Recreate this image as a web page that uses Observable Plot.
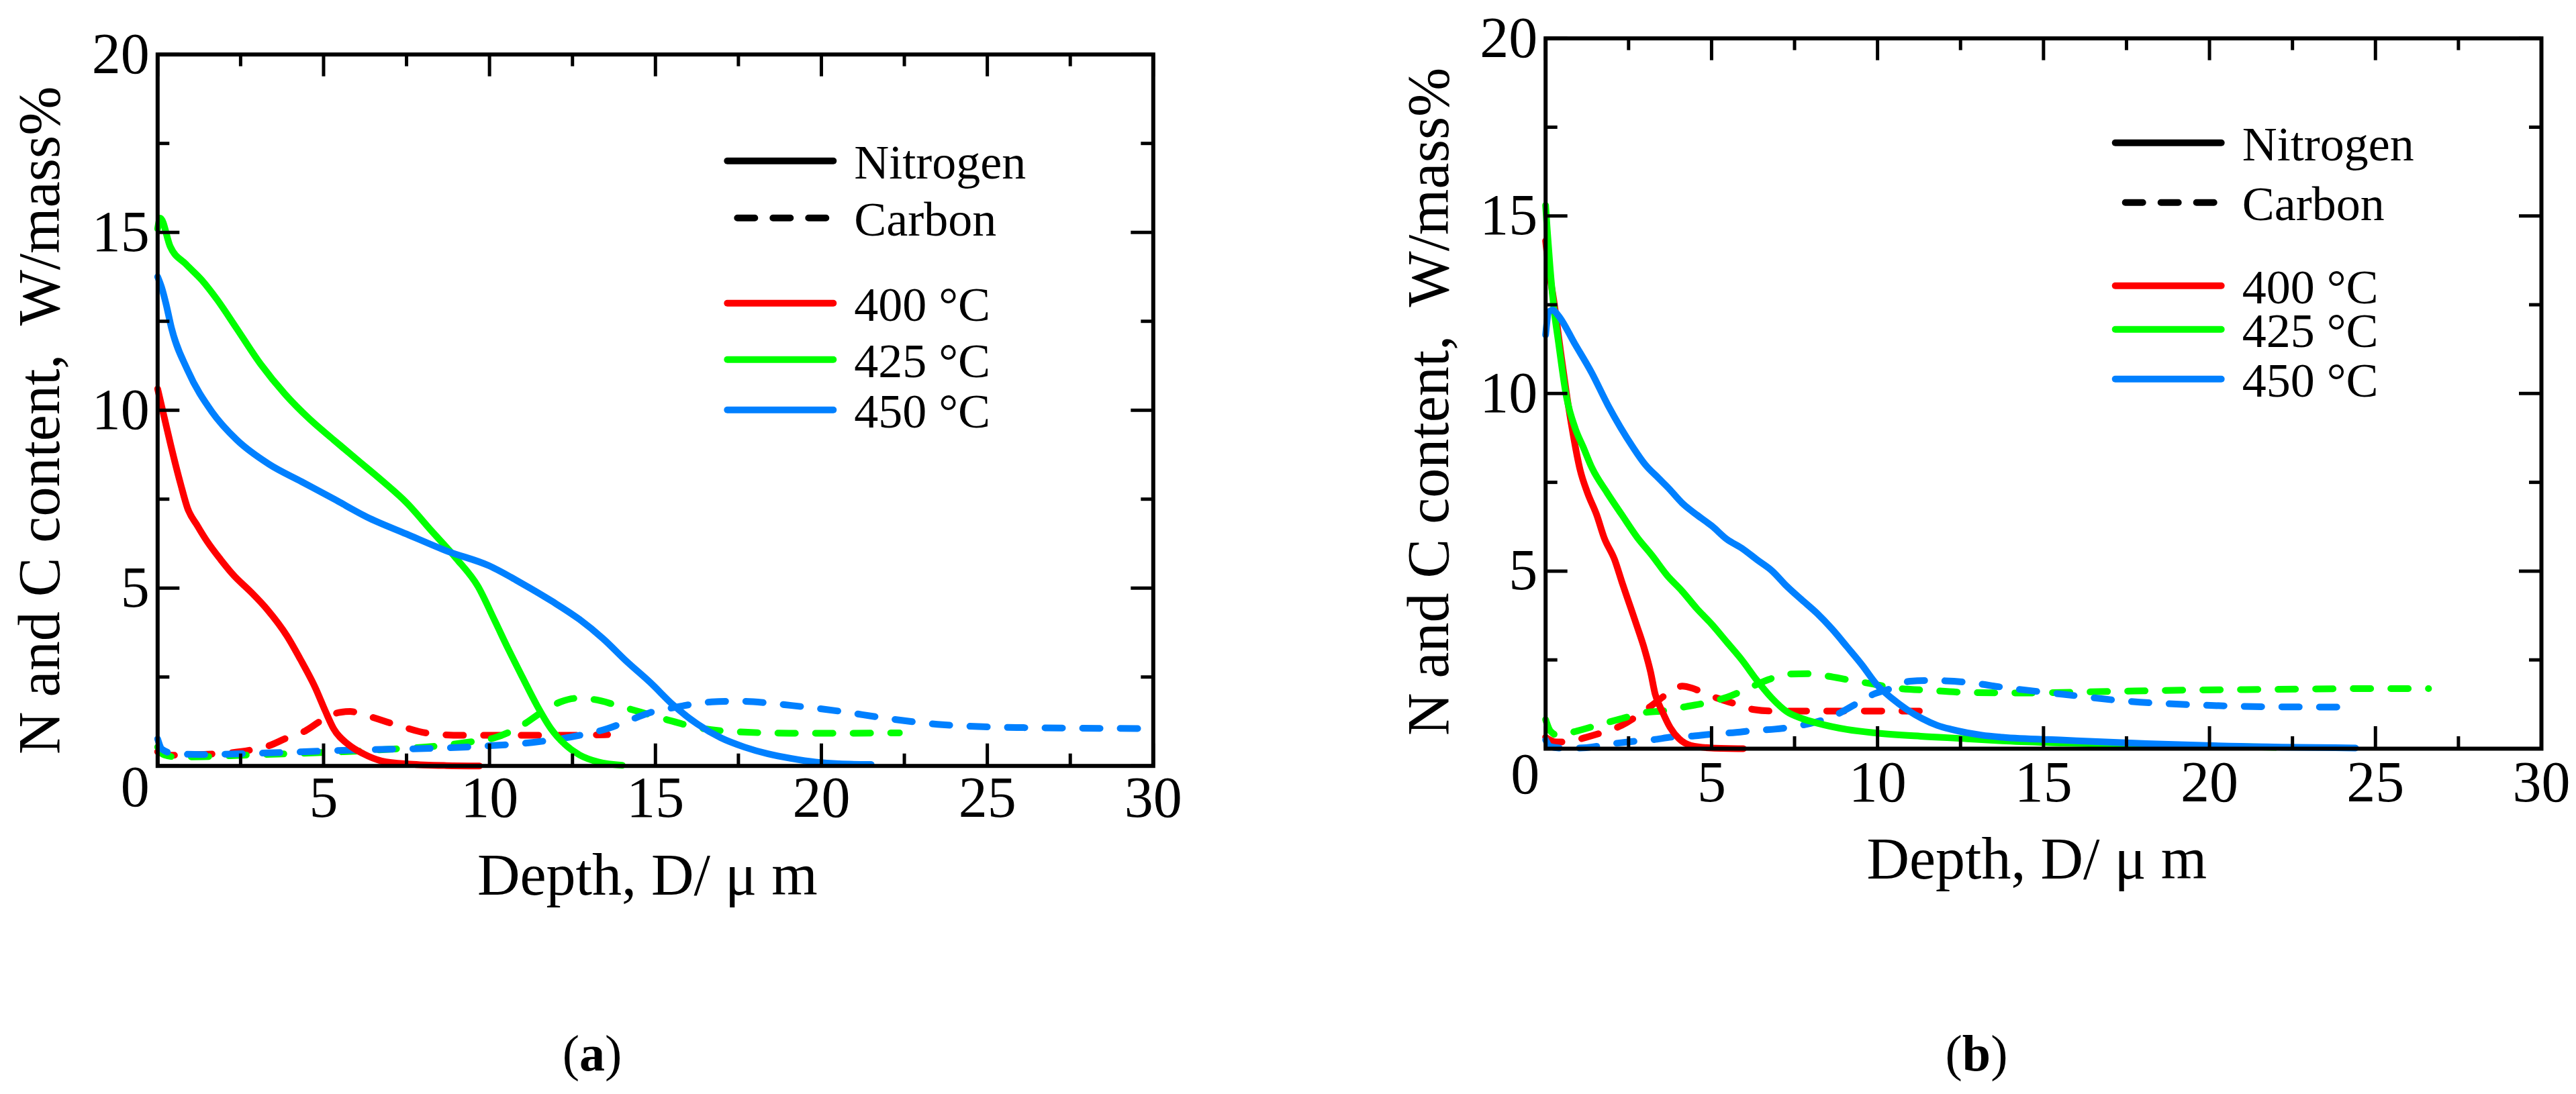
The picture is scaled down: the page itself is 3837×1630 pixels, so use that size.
<!DOCTYPE html>
<html>
<head>
<meta charset="utf-8">
<script src="https://cdn.jsdelivr.net/npm/d3@7"></script>
<script src="https://cdn.jsdelivr.net/npm/@observablehq/plot@0.6"></script>
<style>
  body { margin: 0; background: #ffffff; }
  #fig { position: relative; width: 3837px; height: 1630px; background: #ffffff; font-family: "Liberation Serif", "Times New Roman", serif; }
  .panel { position: absolute; top: 0; }
</style>
</head>
<body>
<div id="fig"></div>
<script>
// ---------------- data (depth in µm, content in mass%) ----------------
const temps = ["400 °C", "425 °C", "450 °C"];
const tempColors = ["#ff0000", "#00ff00", "#0080ff"];
const elements = ["Nitrogen", "Carbon"];

// panel (a)
const aN400 = [[0,10.6],[0.2,9.8],[0.4,9.0],[0.7,7.9],[0.9,7.25],[1.2,6.75],[1.5,6.3],[1.9,5.8],[2.3,5.35],[2.8,4.9],[3.3,4.4],[3.9,3.65],[4.3,3.0],[4.75,2.2],[5.05,1.55],[5.3,1.05],[5.75,0.6],[6.2,0.34],[6.75,0.14],[7.6,0.05],[8.7,0.01],[9.7,0]];
const aN425 = [[0,15.1],[0.08,15.4],[0.38,14.6],[0.86,14.1],[1.33,13.66],[1.8,13.1],[2.38,12.3],[3.1,11.3],[3.85,10.44],[4.58,9.75],[5.3,9.17],[6.05,8.58],[6.8,7.99],[7.5,7.4],[8.26,6.6],[9.0,5.83],[9.65,5.05],[10.15,4.1],[10.58,3.26],[11.0,2.48],[11.43,1.7],[11.85,1.05],[12.28,0.6],[12.71,0.31],[13.28,0.11],[14.0,0.02]];
const aN450 = [[0,13.75],[0.12,13.45],[0.25,13.0],[0.42,12.3],[0.9,11.13],[1.64,9.95],[2.38,9.17],[3.36,8.48],[4.34,7.99],[5.32,7.5],[6.3,7.0],[7.5,6.52],[8.75,6.03],[9.98,5.63],[10.96,5.14],[11.9,4.62],[12.71,4.12],[13.42,3.58],[14.13,2.94],[14.84,2.35],[15.55,1.7],[16.26,1.18],[16.97,0.79],[17.68,0.53],[18.39,0.34],[19.1,0.21],[19.82,0.11],[20.53,0.06],[21.5,0.04]];
const aC400 = [[0,0.4],[0.34,0.3],[1.2,0.32],[2.2,0.37],[2.76,0.44],[3.33,0.56],[3.9,0.79],[4.46,0.99],[4.89,1.25],[5.46,1.5],[5.8,1.53],[6.31,1.41],[7.31,1.12],[8.14,0.92],[9.15,0.86],[10.58,0.86],[12.0,0.86],[13.56,0.88]];
const aC425 = [[0,0.53],[0.2,0.31],[0.63,0.25],[1.34,0.26],[2.76,0.31],[4.18,0.35],[5.6,0.4],[7.02,0.47],[8.44,0.56],[9.3,0.66],[10.15,0.79],[11.0,1.15],[11.57,1.51],[12.14,1.8],[12.6,1.9],[13.14,1.87],[13.85,1.7],[14.56,1.51],[15.27,1.32],[16.26,1.08],[17.68,0.95],[19.1,0.92],[20.53,0.92],[22.35,0.93]];
const aC450 = [[0,0.76],[0.13,0.47],[0.48,0.35],[1.34,0.32],[2.76,0.35],[4.18,0.39],[5.6,0.44],[7.02,0.47],[8.44,0.5],[9.87,0.56],[11.29,0.66],[12.71,0.86],[13.56,1.05],[14.13,1.25],[14.84,1.5],[15.55,1.64],[16.69,1.8],[17.5,1.82],[18.3,1.78],[19.1,1.7],[20.53,1.54],[21.95,1.34],[23.5,1.17],[25.9,1.08],[30,1.05]];

// panel (b)
const bN400 = [[0,14.3],[0.1,13.5],[0.25,12.6],[0.45,11.2],[0.63,10.0],[0.82,8.9],[1.04,7.85],[1.26,7.21],[1.54,6.58],[1.76,5.95],[2.08,5.32],[2.3,4.69],[2.53,4.06],[2.76,3.43],[2.98,2.8],[3.16,2.17],[3.3,1.54],[3.52,1.04],[3.75,0.6],[4.02,0.28],[4.38,0.09],[5.0,0.02],[5.96,0]];
const bN425 = [[0,15.3],[0.05,14.6],[0.13,13.6],[0.25,12.4],[0.38,11.5],[0.63,9.9],[0.9,9.0],[1.13,8.5],[1.4,7.9],[1.85,7.21],[2.3,6.58],[2.76,5.95],[3.2,5.45],[3.66,4.88],[4.11,4.44],[4.56,3.94],[5.01,3.5],[5.47,2.99],[5.92,2.49],[6.37,1.92],[6.82,1.42],[7.27,1.04],[7.72,0.85],[8.18,0.72],[9.08,0.54],[9.98,0.44],[11.3,0.35],[12.7,0.28],[13.76,0.22],[15.6,0.16],[18.1,0.1],[20,0.07],[22,0.04]];
const bN450 = [[0,11.65],[0.1,12.3],[0.22,12.35],[0.38,12.2],[0.88,11.4],[1.38,10.6],[1.88,9.67],[2.63,8.49],[3.0,8.0],[3.4,7.62],[3.7,7.34],[4.11,6.92],[4.56,6.58],[5.01,6.27],[5.47,5.89],[5.92,5.64],[6.37,5.32],[6.82,5.01],[7.27,4.57],[7.72,4.19],[8.18,3.81],[8.63,3.37],[9.08,2.87],[9.53,2.36],[9.98,1.8],[10.43,1.42],[10.89,1.1],[11.34,0.85],[11.79,0.66],[12.24,0.54],[13.14,0.38],[13.76,0.32],[15.6,0.24],[18.1,0.14],[20.6,0.07],[24.4,0.02]];
const bC400 = [[0,0.32],[0.32,0.19],[0.63,0.19],[1.22,0.32],[1.76,0.47],[2.3,0.66],[2.85,0.98],[3.3,1.29],[3.66,1.54],[4.11,1.76],[4.43,1.7],[4.83,1.54],[5.28,1.39],[5.83,1.23],[6.28,1.1],[6.82,1.06],[9,1.06],[11.56,1.06]];
const bC425 = [[0,0.82],[0.14,0.5],[0.36,0.38],[0.95,0.5],[1.67,0.69],[2.3,0.85],[2.94,1.01],[3.57,1.07],[4.2,1.18],[4.83,1.29],[5.47,1.45],[6.1,1.7],[6.73,1.95],[7.27,2.1],[7.95,2.11],[8.45,2.05],[9.17,1.93],[9.8,1.83],[10.43,1.72],[11.6,1.64],[12.86,1.58],[14.4,1.57],[16.9,1.61],[19.4,1.65],[21.9,1.67],[24.4,1.69],[26.6,1.69]];
const bC450 = [[0,0.25],[0.14,0.06],[0.59,0.01],[1.22,0.03],[1.94,0.13],[2.48,0.19],[3.21,0.25],[3.84,0.33],[4.47,0.36],[5.01,0.41],[5.74,0.46],[6.37,0.52],[6.91,0.55],[7.54,0.63],[8.18,0.76],[8.81,0.98],[9.35,1.26],[9.89,1.54],[10.43,1.7],[10.98,1.9],[11.52,1.92],[12.06,1.91],[12.69,1.87],[13.76,1.73],[15.6,1.53],[17.6,1.33],[19.4,1.24],[21.9,1.18],[24.4,1.17]];

// ticks and labels
const xMajorTicks = [0, 5, 10, 15, 20, 25, 30];
const xMinorTicks = [2.5, 7.5, 12.5, 17.5, 22.5, 27.5];
const xLabelTicks = [5, 10, 15, 20, 25, 30];
const yMajorTicks = [0, 5, 10, 15, 20];
const yMinorTicks = [2.5, 7.5, 12.5, 17.5];
const yLabelTicks = [5, 10, 15, 20];
const xTitle = "Depth, D/ μ m";
const yTitle = "N and C content,  W/mass%";
const captions = ["a", "b"];

// ---------------- build ----------------
function rowsOf(list) {
  const out = [];
  for (const s of list) for (const [d, c] of s.data) out.push({depth: d, content: c, temp: s.temp, element: s.element, key: s.element + s.temp});
  return out;
}
const panelA = rowsOf([
  {temp: temps[0], element: "Nitrogen", data: aN400},
  {temp: temps[1], element: "Nitrogen", data: aN425},
  {temp: temps[2], element: "Nitrogen", data: aN450},
  {temp: temps[0], element: "Carbon", data: aC400},
  {temp: temps[1], element: "Carbon", data: aC425},
  {temp: temps[2], element: "Carbon", data: aC450}
]);
const panelB = rowsOf([
  {temp: temps[0], element: "Nitrogen", data: bN400},
  {temp: temps[1], element: "Nitrogen", data: bN425},
  {temp: temps[2], element: "Nitrogen", data: bN450},
  {temp: temps[0], element: "Carbon", data: bC400},
  {temp: temps[1], element: "Carbon", data: bC425},
  {temp: temps[2], element: "Carbon", data: bC450}
]);

const FONT = '"Liberation Serif", "Times New Roman", serif';
const MAJOR = 33, MINOR = 18, TICKW = 5;

function makePanel(rows, L) {
  const fw = L.width - L.ml - L.mr;   // frame width in px
  const fh = L.height - L.mt - L.mb;  // frame height in px
  const t = {stroke: "black", strokeWidth: TICKW};
  return Plot.plot({
    width: L.width, height: L.height,
    marginLeft: L.ml, marginRight: L.mr, marginTop: L.mt, marginBottom: L.mb,
    style: {fontFamily: FONT, fontSize: "86px", color: "black", background: "transparent", overflow: "visible"},
    x: {domain: [0, 30], label: null},
    y: {domain: [0, 20], label: null},
    color: {domain: temps, range: tempColors},
    marks: [
      Plot.line(rows, {filter: d => d.element === "Carbon", x: "depth", y: "content", z: "key", stroke: "temp",
        strokeWidth: 10, strokeLinecap: "round", strokeLinejoin: "round", strokeDasharray: "26,30", curve: "monotone-x"}),
      Plot.line(rows, {filter: d => d.element === "Nitrogen", x: "depth", y: "content", z: "key", stroke: "temp",
        strokeWidth: 10, strokeLinecap: "round", strokeLinejoin: "round", curve: "monotone-x"}),
      Plot.frame({stroke: "black", strokeWidth: 6}),
      // inward ticks on all four sides
      Plot.ruleX(xMajorTicks, {...t, insetTop: fh - MAJOR}),
      Plot.ruleX(xMinorTicks, {...t, insetTop: fh - MINOR}),
      Plot.ruleX(xMajorTicks, {...t, insetBottom: fh - MAJOR}),
      Plot.ruleX(xMinorTicks, {...t, insetBottom: fh - MINOR}),
      Plot.ruleY(yMajorTicks, {...t, insetRight: fw - MAJOR}),
      Plot.ruleY(yMinorTicks, {...t, insetRight: fw - MINOR}),
      Plot.ruleY(yMajorTicks, {...t, insetLeft: fw - MAJOR}),
      Plot.ruleY(yMinorTicks, {...t, insetLeft: fw - MINOR}),
      // tick labels
      Plot.axisX({anchor: "bottom", ticks: xLabelTicks, tickSize: 0, tickPadding: L.xPad, label: null, fontSize: 86}),
      Plot.axisY({anchor: "left", ticks: yLabelTicks, tickSize: 0, tickPadding: L.yPad, label: null, fontSize: 86}),
      Plot.axisY({anchor: "left", ticks: [0], tickSize: 0, tickPadding: L.zeroPad, dy: L.zeroDy, label: null, fontSize: 86}),
      // axis titles
      Plot.text([xTitle], {text: d => d, frameAnchor: "bottom", textAnchor: "middle", lineAnchor: "middle",
        dy: L.xtDy, dx: L.xtDx, fontSize: 88}),
      Plot.text([yTitle], {text: d => d, frameAnchor: "left", textAnchor: "middle", lineAnchor: "middle",
        rotate: -90, dx: L.ytDx, dy: L.ytDy, fontSize: 88})
    ]
  });
}

const layouts = [
  {left: 0, width: 1850, height: 1400, ml: 234.3, mr: 1850 - 234.3 - 1483, mt: 80.7, mb: 1400 - 1140.7,
   xPad: 15, yPad: 12, zeroPad: 12, zeroDy: 32, xtDy: 164, xtDx: -12, ytDx: -175, ytDy: 15,
   legTop: [159, 244, 371, 455, 530], capX: 882},
  {left: 1900, width: 1937, height: 1400, ml: 401.7, mr: 1937 - 401.7 - 1483.3, mt: 56.7, mb: 1400 - 1115,
   xPad: 17, yPad: 12, zeroPad: 9, zeroDy: 39, xtDy: 165, xtDx: -10, ytDx: -173, ytDy: 12,
   legTop: [156, 245, 369, 434, 508], capX: 2944}
];

const fig = document.getElementById("fig");
[panelA, panelB].forEach((rows, i) => {
  const L = layouts[i];
  const div = document.createElement("div");
  div.className = "panel";
  div.style.left = L.left + "px";
  div.appendChild(makePanel(rows, L));
  fig.appendChild(div);
});

// ---------------- legends and captions (overlay) ----------------
const svg = d3.select(fig).append("svg")
  .attr("width", 3837).attr("height", 1630)
  .style("position", "absolute").style("left", 0).style("top", 0)
  .style("pointer-events", "none")
  .attr("font-family", FONT);

const legendEntries = [
  {label: elements[0], color: "black", dashed: false},
  {label: elements[1], color: "black", dashed: true},
  {label: temps[0], color: tempColors[0], dashed: false},
  {label: temps[1], color: tempColors[1], dashed: false},
  {label: temps[2], color: tempColors[2], dashed: false}
];

layouts.forEach((L, i) => {
  const bx = L.left + L.ml, by = L.mt;
  const g = svg.append("g");
  legendEntries.forEach((e, j) => {
    const y = by + L.legTop[j];
    g.append("line")
      .attr("x1", bx + (e.dashed ? 864 : 849)).attr("x2", bx + (e.dashed ? 996 : 1007))
      .attr("y1", y).attr("y2", y)
      .attr("stroke", e.color).attr("stroke-width", 10).attr("stroke-linecap", "round")
      .attr("stroke-dasharray", e.dashed ? "26,27" : null);
    g.append("text")
      .attr("x", bx + 1038).attr("y", y + 26)
      .attr("font-size", 72).attr("fill", "black")
      .text(e.label);
  });
  const cap = svg.append("text")
    .attr("x", L.capX).attr("y", 1595)
    .attr("text-anchor", "middle").attr("font-size", 76).attr("fill", "black");
  cap.append("tspan").text("(");
  cap.append("tspan").attr("font-weight", "bold").text(captions[i]);
  cap.append("tspan").text(")");
});
</script>
</body>
</html>
